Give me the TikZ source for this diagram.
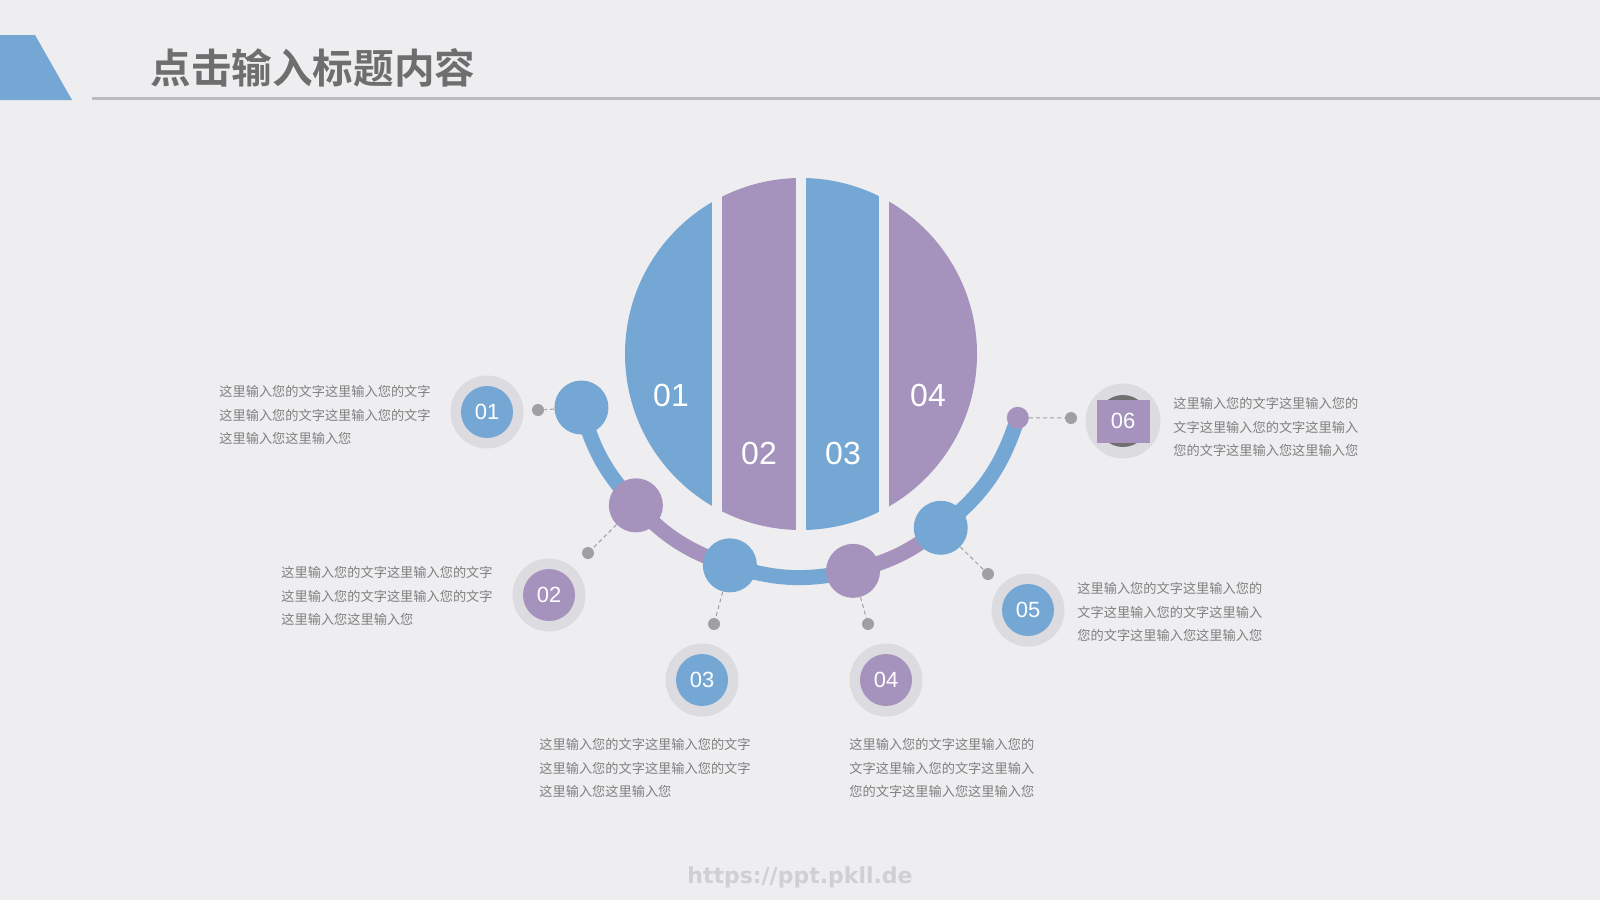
\documentclass[tikz,border=0pt]{standalone}
\usepackage{fontspec}
\usepackage{tikz}
\usetikzlibrary{shapes,arrows,positioning}
\setmainfont{Liberation Sans}
\newfontfamily\cjk{Noto Sans CJK SC}
\newfontfamily\cjkbold{Noto Sans CJK SC Bold}
\newfontfamily\markfont{DejaVu Sans Bold}
\definecolor{StripBlue}{RGB}{116, 167, 211}
\definecolor{StripPurple}{RGB}{165, 146, 189}
\definecolor{PaperGrey}{RGB}{238, 237, 240}
\definecolor{RingGrey}{RGB}{220, 219, 223}
\definecolor{DotGrey}{RGB}{160, 160, 163}
\definecolor{TextGrey}{RGB}{128, 128, 128}
\definecolor{TitleGrey}{RGB}{110, 110, 110}
\definecolor{RuleGrey}{RGB}{188, 188, 190}
\definecolor{MarkGrey}{RGB}{208, 208, 211}
\definecolor{CoreGrey}{RGB}{112, 112, 112}

\begin{document}
\begin{tikzpicture}[
    x=0.5pt, y=0.5pt,
    ring/.style={circle, fill=RingGrey, minimum size=36.5pt, inner sep=0pt},
    core/.style={circle, minimum size=26pt, inner sep=0pt, text=white, font=\fontsize{11}{11}\selectfont},
    bead/.style={circle, minimum size=27pt, inner sep=0pt},
    pin/.style={circle, fill=DotGrey, minimum size=6pt, inner sep=0pt},
    arcline/.style={line width=7.5pt},
    leader/.style={DotGrey, line width=0.5pt, dash pattern=on 2pt off 1.5pt},
    strip/.style={text=white, font=\fontsize{16}{16}\selectfont},
    blurb/.style={anchor=west, align=left, inner sep=0pt, text=TextGrey, font=\cjk\fontsize{6.6}{11.75}\selectfont}
]

% === PAGE ===
\fill[PaperGrey] (0, 0) rectangle (1600, -900);
\useasboundingbox (0, 0) rectangle (1600, -900);

\fill[StripBlue] (0, -35) -- (35, -35) -- (72, -100) -- (0, -100) -- cycle;
\draw[RuleGrey, line width=1.5pt] (92, -98) -- (1600, -98);
\node[anchor=west, inner sep=0pt, text=TitleGrey, font=\cjkbold\fontsize{20.3}{21}\selectfont] (title) at (150, -68) {点击输入标题内容};

% === BIG CIRCLE ===
\coordinate (ball) at (801, -354);
\begin{scope}
    \clip (ball) circle (176);
    \fill[StripBlue] (600, -170) rectangle (712, -540);
    \fill[StripPurple] (722, -170) rectangle (796, -540);
    \fill[StripBlue] (806, -170) rectangle (879, -540);
    \fill[StripPurple] (889, -170) rectangle (1000, -540);
\end{scope}

\node[strip] (s1) at (671, -395) {01};
\node[strip] (s2) at (759, -453) {02};
\node[strip] (s3) at (843, -453) {03};
\node[strip] (s4) at (928, -395) {04};

% === ARC ===
\coordinate (pA) at ([shift={(193.7:226)}] ball);
\coordinate (pB) at ([shift={(222.5:224)}] ball);
\coordinate (pC) at ([shift={(251.4:223)}] ball);
\coordinate (pD) at ([shift={(283.5:223)}] ball);
\coordinate (pE) at ([shift={(308.8:223)}] ball);
\coordinate (pF) at ([shift={(343.6:226)}] ball);

\draw[arcline, StripBlue] (pA) to[bend right=14] (pB);
\draw[arcline, StripPurple] (pB) to[bend right=14] (pC);
\draw[arcline, StripBlue] (pC) to[bend right=15] (pD);
\draw[arcline, StripPurple] (pD) to[bend right=12] (pE);
\draw[arcline, StripBlue] (pE) to[bend right=17] (pF);

\node[bead, fill=StripBlue] (dA) at (pA) {};
\node[bead, fill=StripPurple] (dB) at (pB) {};
\node[bead, fill=StripBlue] (dC) at (pC) {};
\node[bead, fill=StripPurple] (dD) at (pD) {};
\node[bead, fill=StripBlue] (dE) at (pE) {};
\node[bead, fill=StripPurple, minimum size=11pt] (dF) at (pF) {};

% === LEADERS ===
\node[pin] (g1) at (538, -410) {};
\node[pin] (g2) at (588, -553) {};
\node[pin] (g3) at (714, -624) {};
\node[pin] (g4) at (868, -624) {};
\node[pin] (g5) at (988, -574) {};
\node[pin] (g6) at (1071, -418) {};

\draw[leader] (dA) -- (g1);
\draw[leader] (dB) -- (g2);
\draw[leader] (dC) -- (g3);
\draw[leader] (dD) -- (g4);
\draw[leader] (dE) -- (g5);
\draw[leader] (dF) -- (g6);

% === ITEMS ===
\node[ring] (r1) at (487, -412) {};
\node[core, fill=StripBlue] (i1) at (r1) {01};
\node[ring] (r2) at (549, -595) {};
\node[core, fill=StripPurple] (i2) at (r2) {02};
\node[ring] (r3) at (702, -680) {};
\node[core, fill=StripBlue] (i3) at (r3) {03};
\node[ring] (r4) at (886, -680) {};
\node[core, fill=StripPurple] (i4) at (r4) {04};
\node[ring] (r5) at (1028, -610) {};
\node[core, fill=StripBlue] (i5) at (r5) {05};
\node[ring, minimum size=37.5pt] (r6) at (1123, -421) {};
\node[core, fill=CoreGrey, text=CoreGrey] (k6) at (r6) {};
\node[core, rectangle, fill=StripPurple, minimum width=26.5pt, minimum height=21.5pt] (i6) at (r6) {06};

% === TEXTS ===
\node[blurb] (t1) at (219, -415) {这里输入您的文字这里输入您的文字\\这里输入您的文字这里输入您的文字\\这里输入您这里输入您};
\node[blurb] (t2) at (281, -596) {这里输入您的文字这里输入您的文字\\这里输入您的文字这里输入您的文字\\这里输入您这里输入您};
\node[blurb] (t3) at (539, -768) {这里输入您的文字这里输入您的文字\\这里输入您的文字这里输入您的文字\\这里输入您这里输入您};
\node[blurb] (t4) at (849, -768) {这里输入您的文字这里输入您的\\文字这里输入您的文字这里输入\\您的文字这里输入您这里输入您};
\node[blurb] (t5) at (1077, -612) {这里输入您的文字这里输入您的\\文字这里输入您的文字这里输入\\您的文字这里输入您这里输入您};
\node[blurb] (t6) at (1173, -427) {这里输入您的文字这里输入您的\\文字这里输入您的文字这里输入\\您的文字这里输入您这里输入您};

\node[text=MarkGrey, font=\markfont\fontsize{11}{11}\selectfont] (mark) at (800, -877) {https://ppt.pkll.de};

\end{tikzpicture}
\end{document}
